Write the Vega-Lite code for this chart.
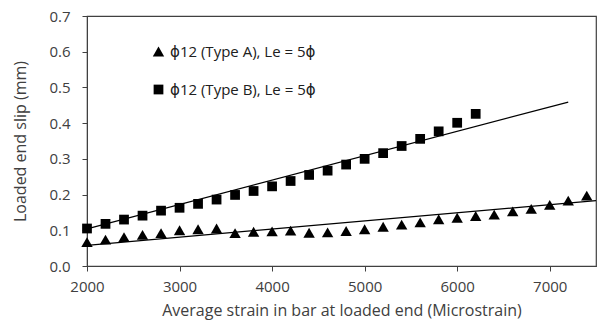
{
  "$schema": "https://vega.github.io/schema/vega-lite/v6.json",
  "autosize": {"type": "none"},
  "width": 509,
  "height": 250,
  "padding": {"left": 87, "top": 16, "right": 4, "bottom": 68},
  "background": "white",
  "config": {
    "view": {"stroke": "#404040", "strokeWidth": 1.2},
    "font": "Open Sans",
    "legend": {"labelFontSize": 15, "labelFont": "Open Sans, DejaVu Sans", "labelColor": "#202020", "labelLimit": 400}
  },
  "datasets": {
    "pts": [
      {"strain": 2000, "slip": 0.105, "series": "ϕ12 (Type B), Le = 5ϕ"},
      {"strain": 2200, "slip": 0.118, "series": "ϕ12 (Type B), Le = 5ϕ"},
      {"strain": 2400, "slip": 0.130, "series": "ϕ12 (Type B), Le = 5ϕ"},
      {"strain": 2600, "slip": 0.141, "series": "ϕ12 (Type B), Le = 5ϕ"},
      {"strain": 2800, "slip": 0.155, "series": "ϕ12 (Type B), Le = 5ϕ"},
      {"strain": 3000, "slip": 0.163, "series": "ϕ12 (Type B), Le = 5ϕ"},
      {"strain": 3200, "slip": 0.174, "series": "ϕ12 (Type B), Le = 5ϕ"},
      {"strain": 3400, "slip": 0.186, "series": "ϕ12 (Type B), Le = 5ϕ"},
      {"strain": 3600, "slip": 0.199, "series": "ϕ12 (Type B), Le = 5ϕ"},
      {"strain": 3800, "slip": 0.210, "series": "ϕ12 (Type B), Le = 5ϕ"},
      {"strain": 4000, "slip": 0.223, "series": "ϕ12 (Type B), Le = 5ϕ"},
      {"strain": 4200, "slip": 0.238, "series": "ϕ12 (Type B), Le = 5ϕ"},
      {"strain": 4400, "slip": 0.255, "series": "ϕ12 (Type B), Le = 5ϕ"},
      {"strain": 4600, "slip": 0.267, "series": "ϕ12 (Type B), Le = 5ϕ"},
      {"strain": 4800, "slip": 0.284, "series": "ϕ12 (Type B), Le = 5ϕ"},
      {"strain": 5000, "slip": 0.300, "series": "ϕ12 (Type B), Le = 5ϕ"},
      {"strain": 5200, "slip": 0.316, "series": "ϕ12 (Type B), Le = 5ϕ"},
      {"strain": 5400, "slip": 0.336, "series": "ϕ12 (Type B), Le = 5ϕ"},
      {"strain": 5600, "slip": 0.356, "series": "ϕ12 (Type B), Le = 5ϕ"},
      {"strain": 5800, "slip": 0.377, "series": "ϕ12 (Type B), Le = 5ϕ"},
      {"strain": 6000, "slip": 0.401, "series": "ϕ12 (Type B), Le = 5ϕ"},
      {"strain": 6200, "slip": 0.426, "series": "ϕ12 (Type B), Le = 5ϕ"},
      {"strain": 2000, "slip": 0.067, "series": "ϕ12 (Type A), Le = 5ϕ"},
      {"strain": 2200, "slip": 0.074, "series": "ϕ12 (Type A), Le = 5ϕ"},
      {"strain": 2400, "slip": 0.081, "series": "ϕ12 (Type A), Le = 5ϕ"},
      {"strain": 2600, "slip": 0.087, "series": "ϕ12 (Type A), Le = 5ϕ"},
      {"strain": 2800, "slip": 0.092, "series": "ϕ12 (Type A), Le = 5ϕ"},
      {"strain": 3000, "slip": 0.100, "series": "ϕ12 (Type A), Le = 5ϕ"},
      {"strain": 3200, "slip": 0.103, "series": "ϕ12 (Type A), Le = 5ϕ"},
      {"strain": 3400, "slip": 0.105, "series": "ϕ12 (Type A), Le = 5ϕ"},
      {"strain": 3600, "slip": 0.092, "series": "ϕ12 (Type A), Le = 5ϕ"},
      {"strain": 3800, "slip": 0.096, "series": "ϕ12 (Type A), Le = 5ϕ"},
      {"strain": 4000, "slip": 0.097, "series": "ϕ12 (Type A), Le = 5ϕ"},
      {"strain": 4200, "slip": 0.099, "series": "ϕ12 (Type A), Le = 5ϕ"},
      {"strain": 4400, "slip": 0.093, "series": "ϕ12 (Type A), Le = 5ϕ"},
      {"strain": 4600, "slip": 0.094, "series": "ϕ12 (Type A), Le = 5ϕ"},
      {"strain": 4800, "slip": 0.098, "series": "ϕ12 (Type A), Le = 5ϕ"},
      {"strain": 5000, "slip": 0.103, "series": "ϕ12 (Type A), Le = 5ϕ"},
      {"strain": 5200, "slip": 0.110, "series": "ϕ12 (Type A), Le = 5ϕ"},
      {"strain": 5400, "slip": 0.116, "series": "ϕ12 (Type A), Le = 5ϕ"},
      {"strain": 5600, "slip": 0.122, "series": "ϕ12 (Type A), Le = 5ϕ"},
      {"strain": 5800, "slip": 0.131, "series": "ϕ12 (Type A), Le = 5ϕ"},
      {"strain": 6000, "slip": 0.135, "series": "ϕ12 (Type A), Le = 5ϕ"},
      {"strain": 6200, "slip": 0.140, "series": "ϕ12 (Type A), Le = 5ϕ"},
      {"strain": 6400, "slip": 0.144, "series": "ϕ12 (Type A), Le = 5ϕ"},
      {"strain": 6600, "slip": 0.153, "series": "ϕ12 (Type A), Le = 5ϕ"},
      {"strain": 6800, "slip": 0.160, "series": "ϕ12 (Type A), Le = 5ϕ"},
      {"strain": 7000, "slip": 0.171, "series": "ϕ12 (Type A), Le = 5ϕ"},
      {"strain": 7200, "slip": 0.183, "series": "ϕ12 (Type A), Le = 5ϕ"},
      {"strain": 7400, "slip": 0.197, "series": "ϕ12 (Type A), Le = 5ϕ"}
    ],
    "fits": [
      {"strain": 2000, "slip": 0.104, "fit": "B"},
      {"strain": 7200, "slip": 0.459, "fit": "B"},
      {"strain": 2000, "slip": 0.058, "fit": "A"},
      {"strain": 7500, "slip": 0.183, "fit": "A"}
    ]
  },
  "encoding": {
    "x": {
      "field": "strain", "type": "quantitative",
      "scale": {"domain": [2000, 7500], "nice": false, "zero": false},
      "axis": {
        "values": [2000, 3000, 4000, 5000, 6000, 7000], "format": "d",
        "title": "Average strain in bar at loaded end (Microstrain)",
        "grid": false, "labelFlush": false, "labelOverlap": false,
        "labelFont": "Open Sans", "titleFont": "Open Sans",
        "labelFontSize": 15, "titleFontSize": 16, "titleFontWeight": "normal",
        "labelColor": "#404040", "titleColor": "#404040",
        "domainColor": "#404040", "tickColor": "#404040", "tickSize": 5,
        "labelPadding": 8, "titlePadding": 8
      }
    },
    "y": {
      "field": "slip", "type": "quantitative",
      "scale": {"domain": [0, 0.7], "nice": false},
      "axis": {
        "values": [0, 0.1, 0.2, 0.3, 0.4, 0.5, 0.6, 0.7], "format": ".1f",
        "title": "Loaded end slip (mm)",
        "grid": false, "labelFlush": false, "labelOverlap": false,
        "labelFont": "Open Sans", "titleFont": "Open Sans",
        "labelFontSize": 15, "titleFontSize": 16, "titleFontWeight": "normal",
        "labelColor": "#404040", "titleColor": "#404040",
        "domainColor": "#404040", "tickColor": "#404040", "tickSize": 5,
        "labelPadding": 12, "titlePadding": 20
      }
    }
  },
  "layer": [
    {
      "data": {"name": "fits"},
      "mark": {"type": "line", "color": "black", "strokeWidth": 1.3},
      "encoding": {
        "detail": {"field": "fit"}
      }
    },
    {
      "data": {"name": "pts"},
      "mark": {"type": "point", "filled": true, "color": "black", "opacity": 1},
      "encoding": {
        "shape": {
          "field": "series", "type": "nominal",
          "scale": {"domain": ["ϕ12 (Type A), Le = 5ϕ", "ϕ12 (Type B), Le = 5ϕ"], "range": ["triangle-up", "square"]},
          "legend": {
            "orient": "none", "legendX": 64, "legendY": 28, "title": null,
            "labelFontSize": 15, "labelColor": "#202020",
            "symbolFillColor": "black", "symbolStrokeColor": "black",
            "rowPadding": 21, "labelOffset": 4
          }
        },
        "size": {
          "field": "series", "type": "nominal",
          "scale": {"domain": ["ϕ12 (Type A), Le = 5ϕ", "ϕ12 (Type B), Le = 5ϕ"], "range": [130, 95]},
          "legend": {
            "orient": "none", "legendX": 64, "legendY": 28, "title": null,
            "labelFontSize": 15, "labelColor": "#202020",
            "symbolFillColor": "black", "symbolStrokeColor": "black",
            "rowPadding": 21, "labelOffset": 4
          }
        }
      }
    }
  ]
}
